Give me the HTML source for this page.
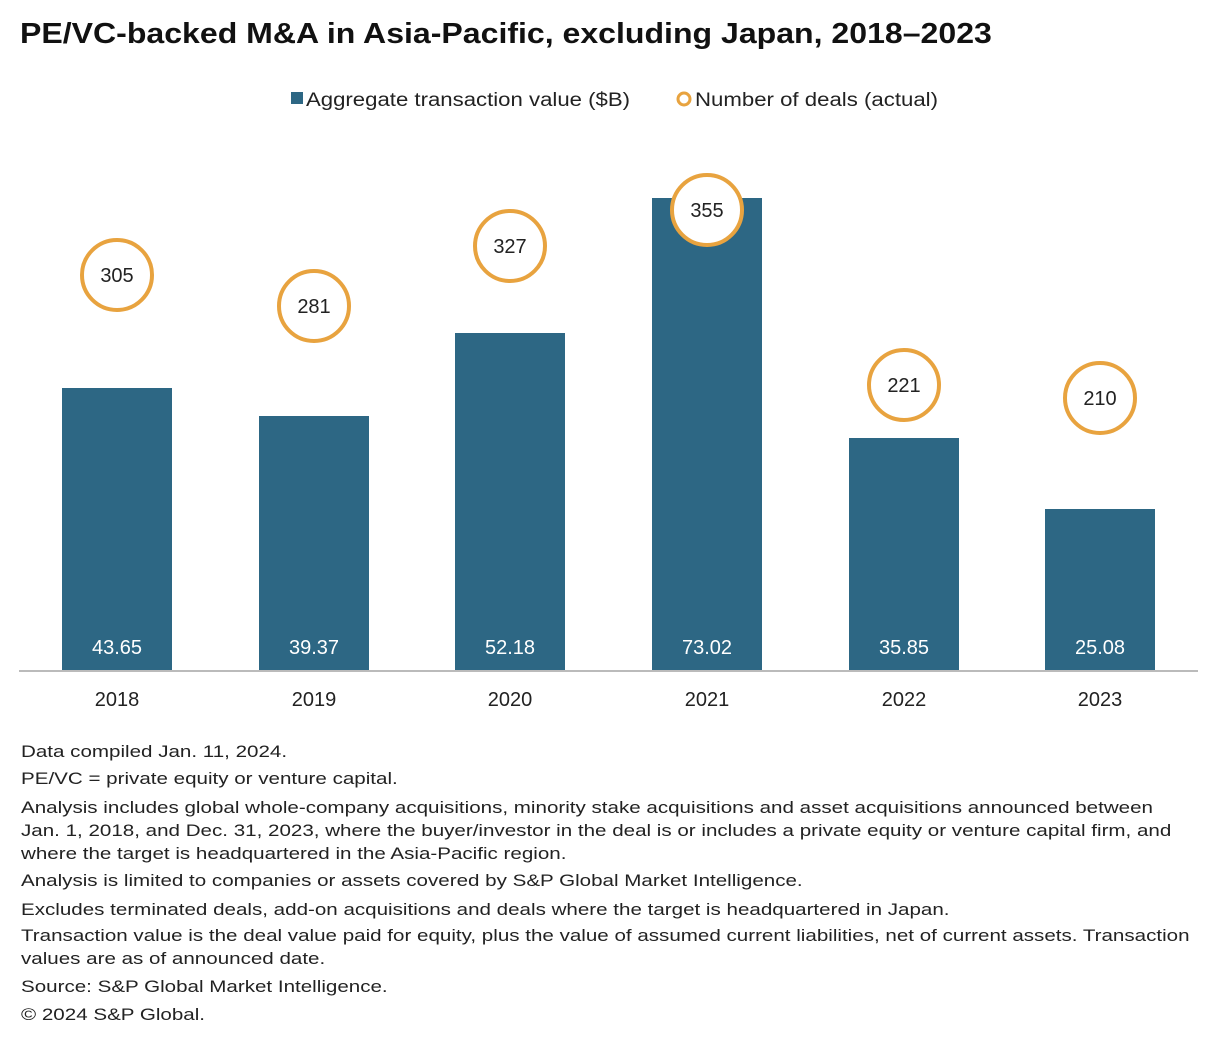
<!DOCTYPE html>
<html><head><meta charset="utf-8"><style>
body{margin:0;width:1228px;height:1048px;background:#fff;font-family:"Liberation Sans",sans-serif;color:#222;position:relative;overflow:hidden}
.t{position:absolute;white-space:nowrap}
.n{position:absolute;left:21px;font-size:17px;line-height:23px;color:#222;white-space:nowrap;transform:scaleX(1.21);transform-origin:0 0}
</style></head><body>
<div class="t" style="left:20px;top:18px;font-size:29px;font-weight:bold;color:#111;transform:scaleX(1.105);transform-origin:0 0">PE/VC-backed M&amp;A in Asia-Pacific, excluding Japan, 2018–2023</div>
<svg width="1228" height="1048" style="position:absolute;left:0;top:0" font-family="Liberation Sans, sans-serif">
<rect x="291" y="92" width="12" height="12" fill="#2d6784"/>
<text x="306" y="106" font-size="19" fill="#222" textLength="324" lengthAdjust="spacingAndGlyphs">Aggregate transaction value ($B)</text>
<circle cx="684" cy="99" r="6" fill="none" stroke="#e8a33f" stroke-width="3"/>
<text x="695" y="106" font-size="19" fill="#222" textLength="243" lengthAdjust="spacingAndGlyphs">Number of deals (actual)</text>
<line x1="19" y1="671" x2="1198" y2="671" stroke="#bbb" stroke-width="2"/>
<g fill="#2d6784">
<rect x="62" y="388" width="110" height="282"/>
<rect x="259" y="416" width="110" height="254"/>
<rect x="455" y="333" width="110" height="337"/>
<rect x="652" y="198" width="110" height="472"/>
<rect x="849" y="438" width="110" height="232"/>
<rect x="1045" y="509" width="110" height="161"/>
</g>
<g fill="#fff" font-size="20" text-anchor="middle">
<text x="117" y="654">43.65</text><text x="314" y="654">39.37</text><text x="510" y="654">52.18</text>
<text x="707" y="654">73.02</text><text x="904" y="654">35.85</text><text x="1100" y="654">25.08</text>
</g>
<g fill="#222" font-size="20" text-anchor="middle">
<text x="117" y="706">2018</text><text x="314" y="706">2019</text><text x="510" y="706">2020</text>
<text x="707" y="706">2021</text><text x="904" y="706">2022</text><text x="1100" y="706">2023</text>
</g>
<g fill="#fff" stroke="#e8a33f" stroke-width="4">
<circle cx="117" cy="275" r="35"/><circle cx="314" cy="306" r="35"/><circle cx="510" cy="246" r="35"/>
<circle cx="707" cy="210" r="35"/><circle cx="904" cy="385" r="35"/><circle cx="1100" cy="398" r="35"/>
</g>
<g fill="#222" font-size="20" text-anchor="middle">
<text x="117" y="282">305</text><text x="314" y="313">281</text><text x="510" y="253">327</text>
<text x="707" y="217">355</text><text x="904" y="392">221</text><text x="1100" y="405">210</text>
</g>
</svg>
<div class="n" style="top:740px">Data compiled Jan. 11, 2024.</div>
<div class="n" style="top:767px">PE/VC = private equity or venture capital.</div>
<div class="n" style="top:796px">Analysis includes global whole-company acquisitions, minority stake acquisitions and asset acquisitions announced between<br>Jan. 1, 2018, and Dec. 31, 2023, where the buyer/investor in the deal is or includes a private equity or venture capital firm, and<br>where the target is headquartered in the Asia-Pacific region.</div>
<div class="n" style="top:869px">Analysis is limited to companies or assets covered by S&amp;P Global Market Intelligence.</div>
<div class="n" style="top:898px">Excludes terminated deals, add-on acquisitions and deals where the target is headquartered in Japan.</div>
<div class="n" style="top:924px">Transaction value is the deal value paid for equity, plus the value of assumed current liabilities, net of current assets. Transaction<br>values are as of announced date.</div>
<div class="n" style="top:975px">Source: S&amp;P Global Market Intelligence.</div>
<div class="n" style="top:1003px">© 2024 S&amp;P Global.</div>
</body></html>
